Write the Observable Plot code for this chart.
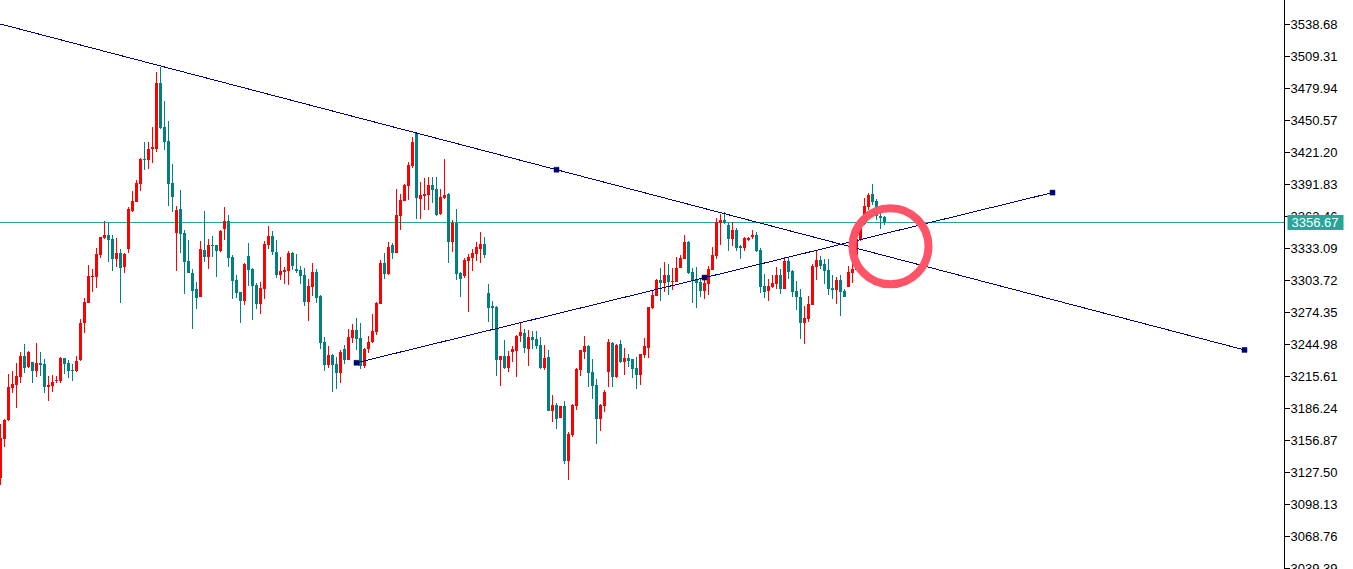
<!DOCTYPE html>
<html>
<head>
<meta charset="utf-8">
<script src="https://cdn.jsdelivr.net/npm/d3@7"></script>
<script src="https://cdn.jsdelivr.net/npm/@observablehq/plot@0.6"></script>
<style>
  html, body { margin: 0; padding: 0; background: #ffffff; }
  #chart svg { display: block; }
</style>
</head>
<body>
<div id="chart"></div>
<script>
// ---- OHLC series (one bar per slot, oldest first) ----
const open = [3122.3,3157.8,3175.2,3204.9,3207.4,3215.0,3234.0,3223.6,3228.2,3220.5,3227.5,3226.6,3205.8,3206.4,3211.0,3211.3,3231.8,3227.5,3221.1,3220.2,3230.3,3264.0,3282.9,3306.7,3306.7,3326.7,3342.5,3345.0,3341.3,3323.0,3328.5,3315.6,3332.2,3367.0,3375.3,3392.1,3414.8,3413.9,3424.0,3424.0,3484.5,3444.1,3431.3,3392.7,3347.1,3368.9,3347.1,3321.2,3310.4,3295.5,3288.1,3331.3,3325.1,3335.8,3335.8,3330.3,3350.8,3357.9,3324.8,3303.7,3292.7,3284.4,3325.7,3313.8,3299.1,3281.7,3295.5,3335.8,3344.1,3329.4,3308.3,3311.1,3312.0,3328.5,3313.8,3312.9,3308.3,3283.5,3297.3,3311.1,3289.0,3246.8,3225.7,3234.9,3226.6,3218.4,3240.4,3230.3,3250.5,3257.8,3250.5,3224.8,3240.4,3246.8,3256.0,3281.7,3319.3,3309.2,3335.8,3328.5,3362.5,3376.2,3390.0,3408.3,3438.6,3378.1,3380.8,3381.7,3390.9,3387.2,3364.3,3379.0,3382.6,3338.6,3356.0,3310.1,3307.4,3321.2,3323.9,3327.6,3332.2,3336.8,3291.8,3279.8,3278.9,3230.3,3234.0,3223.0,3237.6,3238.6,3252.3,3255.1,3240.4,3251.4,3249.6,3244.1,3223.0,3233.1,3183.5,3189.0,3177.1,3188.1,3137.6,3161.5,3188.1,3221.1,3237.6,3243.1,3219.3,3207.4,3176.1,3188.1,3219.3,3245.9,3214.7,3245.0,3228.4,3232.1,3231.2,3223.0,3216.5,3234.9,3241.3,3278.0,3289.0,3303.7,3301.0,3308.3,3301.9,3301.9,3314.7,3323.0,3338.6,3311.1,3304.6,3301.9,3293.6,3300.1,3312.9,3325.7,3356.0,3358.8,3354.2,3341.3,3349.6,3334.9,3333.1,3340.4,3343.2,3345.0,3331.3,3298.2,3293.6,3297.3,3300.1,3308.3,3295.5,3321.2,3312.0,3293.6,3288.1,3264.3,3267.9,3280.8,3315.6,3322.1,3318.4,3312.9,3296.4,3294.5,3303.7,3293.6,3297.3,3310.1,3312.9,3341.3,3355.1,3370.7,3382.6,3376.2,3362.5,3361.1];
const high = [3171.6,3176.1,3217.7,3219.9,3227.5,3237.4,3245.0,3238.6,3228.6,3245.9,3237.4,3231.2,3215.6,3216.5,3215.6,3233.3,3232.2,3230.3,3226.6,3234.0,3267.9,3287.2,3317.5,3313.8,3333.1,3343.6,3357.6,3356.3,3345.0,3342.3,3332.2,3328.8,3370.7,3385.4,3395.5,3415.7,3430.6,3430.6,3444.1,3494.6,3499.5,3468.0,3449.6,3410.2,3371.9,3386.3,3349.6,3340.4,3313.8,3301.9,3339.5,3367.0,3341.3,3344.1,3336.2,3349.6,3370.7,3363.4,3326.7,3308.3,3293.1,3319.3,3337.7,3314.7,3301.0,3301.9,3339.5,3353.3,3348.7,3340.4,3324.8,3315.6,3330.3,3329.4,3327.6,3316.6,3314.7,3304.6,3319.3,3313.8,3289.9,3251.4,3243.1,3235.8,3233.1,3239.5,3244.1,3258.7,3263.3,3268.8,3264.3,3241.3,3252.3,3272.5,3283.5,3322.1,3328.5,3338.6,3337.7,3387.2,3382.6,3391.8,3412.0,3435.0,3439.5,3393.7,3397.3,3398.2,3398.2,3398.2,3387.2,3414.8,3383.6,3358.8,3368.9,3311.1,3323.9,3327.6,3332.2,3338.6,3347.8,3343.2,3300.1,3284.4,3279.8,3234.4,3248.6,3238.6,3243.1,3253.2,3264.3,3258.7,3257.8,3256.9,3256.9,3251.4,3244.1,3239.5,3198.2,3190.8,3188.5,3192.7,3164.2,3189.9,3223.0,3239.9,3252.3,3244.1,3231.2,3212.9,3189.9,3202.8,3249.6,3246.8,3245.0,3248.6,3241.3,3235.8,3231.6,3233.1,3236.2,3250.5,3279.3,3293.6,3304.6,3314.7,3320.2,3318.4,3314.7,3324.8,3326.7,3345.0,3339.5,3314.7,3315.6,3305.6,3308.3,3316.6,3334.0,3360.6,3364.3,3366.1,3356.0,3357.0,3351.4,3335.8,3343.2,3343.2,3349.6,3347.8,3333.1,3309.2,3304.6,3308.3,3315.6,3313.8,3324.8,3324.8,3312.9,3302.8,3295.5,3279.8,3289.0,3318.4,3330.3,3325.7,3323.0,3323.0,3308.3,3306.5,3308.3,3295.5,3316.6,3320.2,3342.3,3357.0,3379.0,3383.3,3391.8,3378.1,3371.6,3362.5];
const low = [3115.6,3150.7,3174.5,3200.3,3186.5,3209.5,3218.6,3223.0,3209.5,3215.0,3215.6,3200.3,3192.9,3201.2,3209.0,3209.5,3217.2,3214.0,3211.3,3219.5,3229.4,3255.4,3282.5,3293.0,3296.4,3323.9,3341.3,3320.2,3312.0,3315.4,3282.6,3310.4,3328.5,3366.1,3375.0,3385.4,3404.7,3405.6,3411.1,3421.5,3442.3,3423.0,3371.9,3366.1,3312.0,3328.5,3290.9,3310.0,3259.0,3277.4,3287.7,3320.5,3313.8,3325.1,3306.5,3329.4,3340.4,3315.6,3286.3,3287.2,3264.3,3280.8,3298.2,3267.0,3277.1,3272.5,3286.3,3332.2,3326.7,3305.6,3303.7,3300.1,3299.1,3312.9,3310.1,3300.1,3279.8,3266.1,3289.0,3282.6,3240.4,3220.2,3223.0,3200.9,3203.7,3209.2,3226.6,3229.9,3245.9,3239.5,3222.0,3223.0,3236.7,3245.9,3253.2,3281.3,3304.6,3308.3,3323.0,3328.1,3349.6,3375.8,3377.1,3406.5,3359.7,3359.7,3368.0,3368.0,3374.4,3362.5,3363.4,3378.1,3319.3,3329.4,3303.7,3288.1,3305.6,3274.3,3312.0,3321.2,3319.3,3323.9,3265.2,3258.7,3215.6,3206.4,3222.0,3219.3,3228.4,3214.7,3246.8,3236.7,3224.8,3240.4,3240.4,3222.0,3221.1,3183.1,3173.4,3166.9,3176.7,3134.8,3120.1,3159.6,3184.4,3215.6,3231.2,3205.5,3194.5,3153.2,3165.1,3182.6,3205.5,3205.5,3213.8,3227.5,3216.5,3223.9,3213.8,3203.7,3207.4,3232.1,3232.1,3277.1,3288.6,3284.4,3292.7,3289.9,3294.5,3301.5,3314.3,3322.6,3309.2,3282.6,3278.0,3288.1,3286.3,3289.9,3312.5,3323.0,3335.8,3355.1,3330.3,3334.9,3330.3,3323.0,3330.3,3339.5,3341.3,3329.4,3291.8,3287.2,3284.4,3296.4,3295.5,3290.9,3295.1,3304.6,3288.1,3276.2,3249.6,3245.0,3265.2,3280.4,3303.7,3313.8,3300.1,3289.9,3286.3,3281.7,3270.7,3287.7,3296.9,3301.0,3312.5,3339.5,3354.2,3368.0,3372.5,3358.8,3350.5,3354.2];
const close = [3158.4,3175.2,3205.5,3208.3,3215.6,3234.0,3222.7,3237.6,3220.5,3227.5,3225.7,3205.8,3207.4,3210.4,3211.9,3232.4,3226.6,3220.5,3220.2,3229.1,3264.0,3283.5,3307.4,3307.7,3327.6,3343.2,3345.0,3340.4,3323.0,3328.5,3315.0,3327.6,3368.9,3376.2,3392.7,3414.8,3413.9,3424.0,3425.5,3484.5,3442.9,3430.6,3392.1,3380.2,3368.0,3346.2,3320.2,3310.4,3293.9,3287.2,3332.2,3325.1,3335.8,3334.9,3330.3,3348.7,3357.9,3323.9,3303.1,3291.8,3284.4,3318.4,3312.9,3298.2,3281.7,3296.4,3336.8,3344.1,3329.4,3308.3,3312.0,3312.9,3328.5,3316.6,3312.0,3307.4,3283.5,3298.2,3311.1,3287.2,3245.9,3225.7,3234.9,3225.7,3218.4,3237.6,3230.3,3251.4,3257.8,3249.6,3224.8,3240.4,3246.8,3256.9,3282.6,3319.3,3309.2,3334.0,3328.5,3363.4,3377.1,3390.9,3409.3,3430.4,3379.0,3381.7,3382.6,3390.9,3386.3,3363.4,3379.9,3381.7,3338.6,3356.0,3309.2,3304.6,3322.1,3324.8,3328.5,3334.0,3336.8,3326.7,3278.0,3278.0,3230.3,3234.0,3223.0,3234.0,3240.4,3252.3,3256.0,3241.3,3251.4,3248.6,3243.1,3223.0,3232.1,3183.5,3189.0,3176.1,3188.1,3137.6,3162.4,3189.0,3222.0,3239.5,3243.1,3218.4,3206.4,3176.1,3189.0,3200.9,3246.8,3214.7,3244.1,3228.4,3232.1,3229.4,3222.0,3216.5,3235.8,3243.1,3278.9,3289.9,3303.7,3301.0,3308.3,3301.9,3302.8,3314.7,3323.9,3338.6,3310.1,3303.7,3301.0,3293.6,3301.0,3313.8,3326.7,3357.0,3358.8,3356.0,3341.3,3349.6,3333.1,3333.1,3342.3,3342.3,3345.0,3330.3,3297.3,3292.7,3298.2,3301.0,3308.3,3295.5,3321.2,3311.1,3292.7,3288.1,3264.3,3268.8,3281.7,3316.6,3322.1,3316.6,3312.0,3295.5,3294.5,3303.7,3292.7,3288.1,3311.1,3313.8,3341.3,3355.1,3371.6,3381.7,3375.3,3362.5,3360.6,3356.67];

// ---- price axis ----
const yTicks = [3538.68,3509.31,3479.94,3450.57,3421.20,3391.83,3362.46,3333.09,3303.72,3274.35,3244.98,3215.61,3186.24,3156.87,3127.50,3098.13,3068.76,3039.39];
const priceRange = [3038.47, 3560.71];   // visible price window
const barSlots = [0, 321];               // visible bar slots (incl. empty right space)
const currentPrice = 3356.67;

// ---- drawn objects (bar index, price) ----
const trendDown = [{i: 0, p: 3539.1}, {i: 311, p: 3240.0}];
const trendUp = [{i: 89, p: 3228.2}, {i: 263, p: 3384.4}];
const anchors = [{i: 139, p: 3405.4}, {i: 311, p: 3240.0}, {i: 89, p: 3228.2}, {i: 176, p: 3306.4}, {i: 263, p: 3384.4}];
const highlight = [{i: 222.5, p: 3335.2}];

const RED = "#ff0000", TEAL = "#008080", NAVY = "#000080", LINE = "#26a69a", RING = "#ff5468";

const candles = open.map((o, i) => ({i, o, h: high[i], l: low[i], c: close[i]}));
const up = candles.filter(d => d.c >= d.o);
const down = candles.filter(d => d.c < d.o);

const chart = Plot.plot({
  width: 1353,
  height: 569,
  marginLeft: 0,
  marginRight: 69,
  marginTop: 0,
  marginBottom: 0,
  style: {fontFamily: "'Liberation Sans', Arial, sans-serif", fontSize: "13px", background: "#ffffff", color: "#000000"},
  x: {domain: barSlots, axis: null},
  y: {domain: priceRange, axis: "right", ticks: yTicks, tickFormat: d => d.toFixed(2), tickSize: 5, tickPadding: 1, label: null},
  marks: [
    Plot.ruleY([currentPrice], {stroke: LINE, strokeWidth: 1, shapeRendering: "crispEdges"}),
    Plot.ruleX(up, {x: "i", y1: "l", y2: "h", stroke: RED, strokeWidth: 1, shapeRendering: "crispEdges"}),
    Plot.ruleX(down, {x: "i", y1: "l", y2: "h", stroke: TEAL, strokeWidth: 1, shapeRendering: "crispEdges"}),
    Plot.ruleX(up, {x: "i", y1: "o", y2: "c", stroke: RED, strokeWidth: 3, shapeRendering: "crispEdges"}),
    Plot.ruleX(down, {x: "i", y1: "o", y2: "c", stroke: TEAL, strokeWidth: 3, shapeRendering: "crispEdges"}),
    Plot.line(trendDown, {x: "i", y: "p", stroke: NAVY, strokeWidth: 1, shapeRendering: "crispEdges"}),
    Plot.line(trendUp, {x: "i", y: "p", stroke: NAVY, strokeWidth: 1, shapeRendering: "crispEdges"}),
    Plot.dot(anchors, {x: "i", y: "p", symbol: "square", r: 2.8, fill: NAVY, stroke: "#000030", strokeWidth: 0.5}),
    Plot.dot(highlight, {x: "i", y: "p", r: 38, stroke: RING, strokeWidth: 8, fill: "none"}),
    Plot.ruleX([barSlots[1]], {stroke: "#000000", strokeWidth: 1, shapeRendering: "crispEdges"}),
    Plot.text([currentPrice], {y: d => d, frameAnchor: "right", dx: 7, textAnchor: "start", text: d => d.toFixed(2), fill: "#ffffff", fontSize: 13})
  ]
});

document.getElementById("chart").appendChild(chart);

// price tag background behind the current price text (same transform as the text)
const tag = chart.querySelector('g[aria-label="text"] text');
if (tag) {
  const bb = tag.getBBox();
  const rect = document.createElementNS("http://www.w3.org/2000/svg", "rect");
  const cy = bb.y + bb.height / 2;
  rect.setAttribute("x", bb.x - 4);
  rect.setAttribute("y", cy - 7.5);
  rect.setAttribute("width", bb.width + 9);
  rect.setAttribute("height", 15);
  rect.setAttribute("fill", LINE);
  const tr = tag.getAttribute("transform");
  if (tr) rect.setAttribute("transform", tr);
  tag.parentNode.insertBefore(rect, tag);
}
</script>
</body>
</html>
